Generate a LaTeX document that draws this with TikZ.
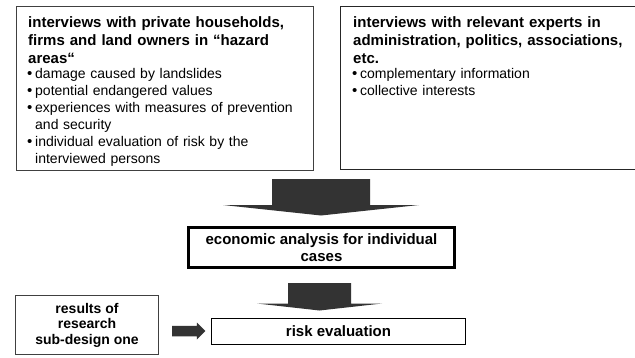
\documentclass[tikz,border=0pt]{standalone}
\usepackage{fontspec}
\setmainfont{Liberation Sans}
\usetikzlibrary{calc}
\definecolor{arrowgray}{HTML}{333333}
\begin{document}
\begin{tikzpicture}[x=1pt,y=-1pt,
  frame/.style={draw=black!75, line width=1pt, inner sep=0pt},
  ttl/.style={font=\fontsize{15}{18}\selectfont\bfseries, text width=295pt, align=left, inner sep=0pt, anchor=base west},
  blt/.style={font=\fontsize{14}{17}\selectfont, text width=295pt, align=left, inner sep=0pt, anchor=base west},
  lbl/.style={font=\fontsize{15}{17}\selectfont\bfseries, align=center},
  blk/.style={fill=arrowgray, draw=none},
]
\useasboundingbox (0,0) rectangle (635,357);
\newcommand\bul{\makebox[8pt][l]{\fontsize{15}{15}\selectfont•}}
\newcommand\ind{\hspace*{8pt}}

% boxes
\node[frame, anchor=north west, minimum width=297pt, minimum height=164pt] (b1) at (15.5,5.5) {};
\begin{scope}
\clip (0,0) rectangle (635,357);
\node[frame, draw=black!85, anchor=north west, minimum width=320pt, minimum height=163pt] (b2) at (339.5,6) {};
\end{scope}

\node[ttl] (t1) at (28,27) {interviews with private households,\\firms and land owners in “hazard\\areas“};
\node[blt] (l1) at (27,78.5) {\bul damage caused by landslides\\
\bul potential endangered values\\
\bul experiences with measures of prevention\\
\ind and security\\
\bul individual evaluation of risk by the\\
\ind interviewed persons};

\node[ttl] (t2) at (353,27) {interviews with relevant experts in\\administration, politics, associations,\\etc.};
\node[blt] (l2) at (352,78.5) {\bul complementary information\\
\bul collective interests};

\node[draw=black, line width=2.7pt, minimum width=266pt, minimum height=40pt, inner sep=0pt, lbl] (econ) at (321.5,247.5) {economic analysis for individual\\cases};

\node[draw=black, line width=1.1pt, minimum width=254pt, minimum height=26pt, inner sep=0pt, lbl] (risk) at (338.5,331.5) {risk evaluation};

\node[frame, minimum width=143pt, minimum height=59pt, font=\fontsize{14}{15.5}\selectfont\bfseries, align=center] (res) at (87,325) {results of\\research\\sub-design one};

% big arrow 1 (boxes -> economic analysis)
\coordinate (a1) at (321,179);
\fill[blk] ($(a1)+(-49,0)$) -- ($(a1)+(49,0)$) -- ($(a1)+(49,26)$) -- ($(a1)+(98,26)$)
  -- ($(a1)+(0,36.5)$) -- ($(a1)+(-98,26)$) -- ($(a1)+(-49,26)$) -- cycle;

% big arrow 2 (economic analysis -> risk evaluation)
\coordinate (a2) at (319.5,283);
\fill[blk] ($(a2)+(-31.5,0)$) -- ($(a2)+(31.5,0)$) -- ($(a2)+(31.5,20.5)$) -- ($(a2)+(62.5,20.5)$)
  -- ($(a2)+(0,27.5)$) -- ($(a2)+(-62.5,20.5)$) -- ($(a2)+(-31.5,20.5)$) -- cycle;

% small arrow (results -> risk evaluation)
\coordinate (s0) at ($(res.east)+(13,6)$);
\coordinate (s1) at ($(risk.west)+(-5.5,-0.5)$);
\fill[blk] ($(s0)+(0,-5.25)$) -- ($(s1)+(-8.5,-5.25)$) -- ($(s1)+(-8.5,-8.5)$) -- (s1)
  -- ($(s1)+(-8.5,8.5)$) -- ($(s1)+(-8.5,5.25)$) -- ($(s0)+(0,5.25)$) -- cycle;
\end{tikzpicture}
\end{document}
